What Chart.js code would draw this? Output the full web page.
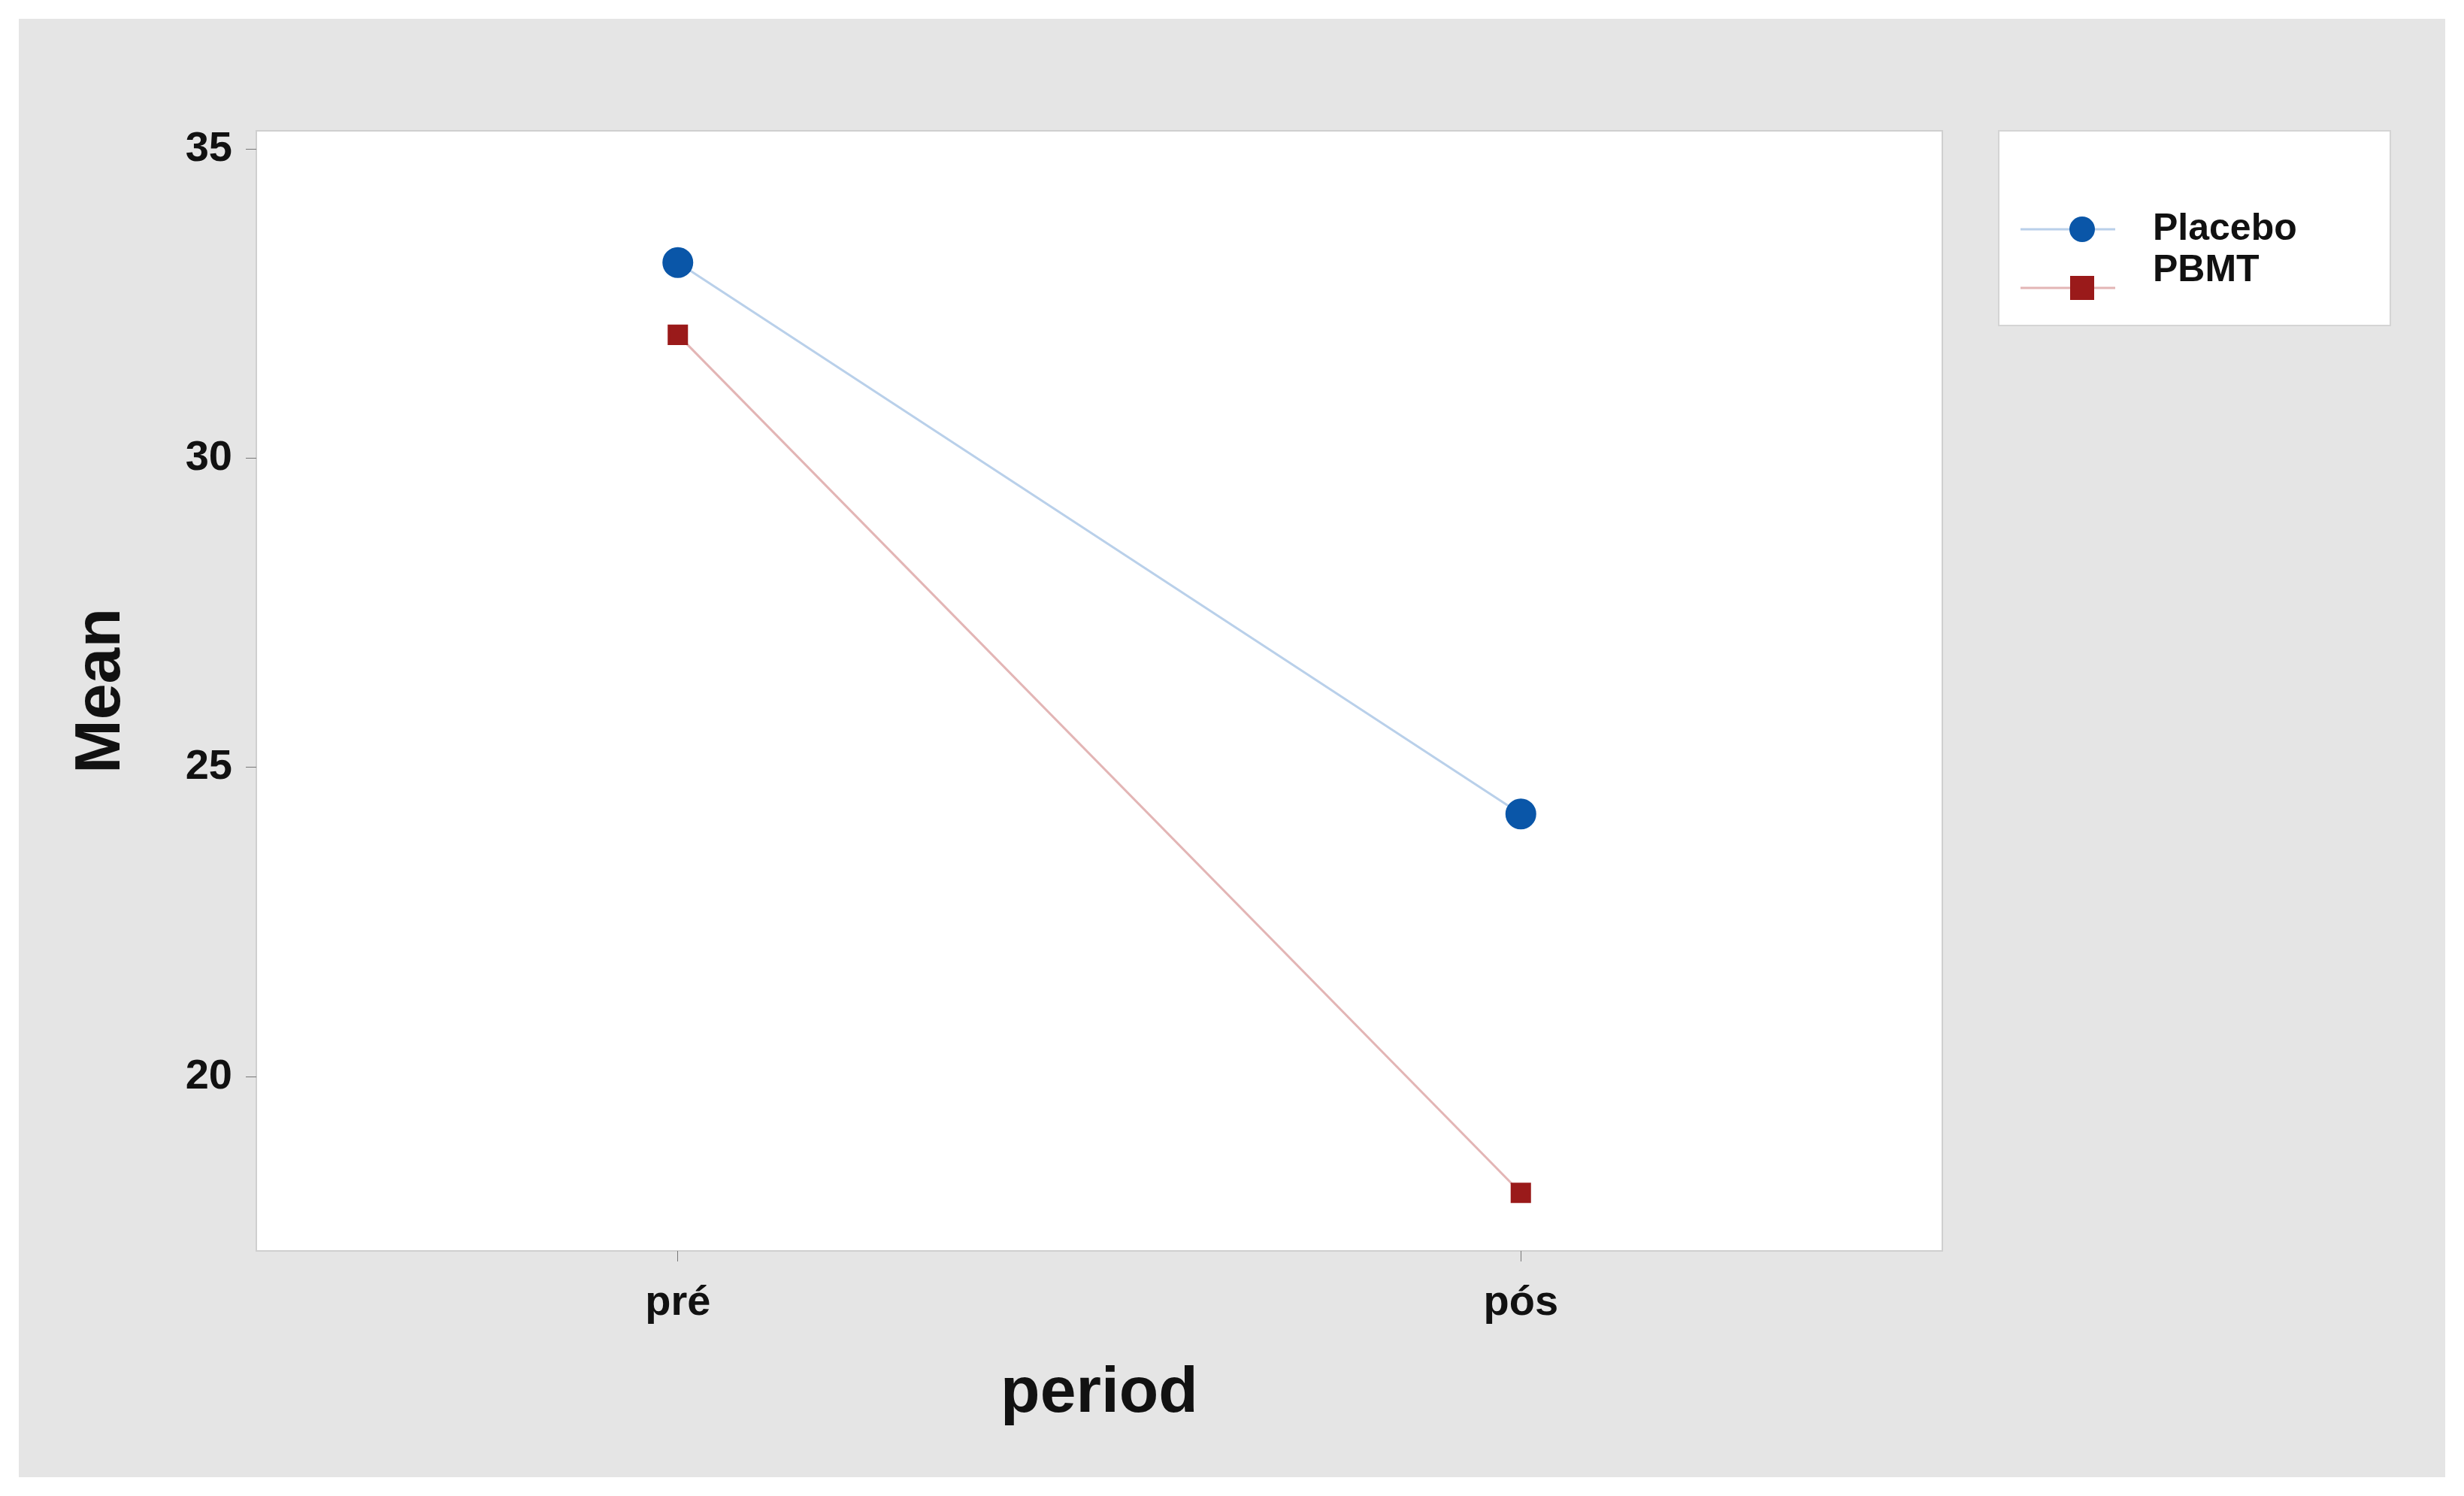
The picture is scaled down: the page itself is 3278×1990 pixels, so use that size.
<!DOCTYPE html>
<html lang="en">
<head>
<meta charset="UTF-8">
<script src="https://cdn.jsdelivr.net/npm/chart.js"></script>
<style>
  body { margin: 0; padding: 0; background: #fff; }
  #wrap { width: 3278px; height: 1990px; }
</style>
</head>
<body>
<div id="wrap"><canvas id="chart" width="3278" height="1990"></canvas></div>
<script>
// data
const periods = ['pré', 'pós'];
const placebo = [33.17, 24.25];
const pbmt = [32.0, 18.12];
const yTicks = [20, 25, 30, 35];

const FONT = '"Liberation Sans", Arial, sans-serif';

// grey panel + white plot area with thin border, and the legend box
const frame = {
  id: 'frame',
  beforeDraw(chart) {
    const c = chart.ctx, a = chart.chartArea;
    c.save();
    c.fillStyle = '#fff';
    c.fillRect(0, 0, chart.width, chart.height);
    c.fillStyle = '#e5e5e5';
    c.fillRect(25, 25, 3228, 1940);
    c.fillStyle = '#fff';
    c.fillRect(a.left, a.top, a.right - a.left, a.bottom - a.top);
    c.strokeStyle = '#cfcfcf';
    c.lineWidth = 2;
    c.strokeRect(a.left, a.top, a.right - a.left, a.bottom - a.top);
    c.restore();
  },
  afterDraw(chart) {
    const c = chart.ctx;
    c.save();
    c.fillStyle = '#fff';
    c.fillRect(2659, 174, 521, 259);
    c.strokeStyle = '#d4d4d4';
    c.lineWidth = 2;
    c.strokeRect(2659, 174, 521, 259);
    c.font = 'bold 50px ' + FONT;
    c.textBaseline = 'middle';
    const rows = [[305, 305], [383, 360]];
    chart.data.datasets.forEach((ds, i) => {
      const my = rows[i][0];
      c.strokeStyle = ds.borderColor;
      c.lineWidth = 3;
      c.beginPath(); c.moveTo(2688, my); c.lineTo(2814, my); c.stroke();
      c.fillStyle = ds.pointBackgroundColor;
      if (ds.pointStyle === 'circle') {
        c.beginPath(); c.arc(2770, my, 17, 0, Math.PI * 2); c.fill();
      } else {
        c.fillRect(2770 - 16, my - 16, 32, 32);
      }
      c.fillStyle = '#111';
      c.fillText(ds.label, 2864, rows[i][1]);
    });
    c.restore();
  }
};

new Chart(document.getElementById('chart'), {
  type: 'line',
  data: {
    datasets: [{
      label: 'Placebo',
      data: placebo.map((v, i) => ({ x: i, y: v })),
      borderColor: '#b9d0ea',
      borderWidth: 3,
      pointStyle: 'circle',
      pointRadius: 19,
      pointBackgroundColor: '#0a56a8',
      pointBorderColor: '#0a56a8'
    }, {
      label: 'PBMT',
      data: pbmt.map((v, i) => ({ x: i, y: v })),
      borderColor: '#e3b5b5',
      borderWidth: 3,
      pointStyle: 'rect',
      pointRadius: 17,
      pointBackgroundColor: '#9a1a1a',
      pointBorderColor: '#9a1a1a'
    }]
  },
  options: {
    responsive: false,
    animation: false,
    devicePixelRatio: 1,
    layout: { padding: { left: 60, right: 694, top: 174, bottom: 25 } },
    plugins: { legend: { display: false }, tooltip: { enabled: false } },
    scales: {
      x: {
        type: 'linear',
        min: -0.5, max: 1.5,
        afterBuildTicks: s => { s.ticks = periods.map((p, i) => ({ value: i })); },
        afterFit: s => { s.height = 301; },
        ticks: {
          callback: v => periods[v],
          color: '#111',
          font: { family: FONT, size: 56, weight: 'bold' },
          padding: 22
        },
        grid: { drawOnChartArea: false, tickLength: 14, color: '#777' },
        border: { display: false },
        title: {
          display: true, text: 'period', color: '#111',
          font: { family: FONT, size: 86, weight: 'bold' },
          padding: { top: 0, bottom: 59 }
        }
      },
      y: {
        min: 17.18, max: 35.3,
        afterBuildTicks: s => { s.ticks = yTicks.map(v => ({ value: v })); },
        afterFit: s => { s.width = 281; },
        ticks: {
          color: '#111',
          font: { family: FONT, size: 56, weight: 'bold' },
          padding: 18
        },
        grid: { drawOnChartArea: false, tickLength: 14, color: '#777' },
        border: { display: false },
        title: {
          display: true, text: 'Mean', color: '#111',
          font: { family: FONT, size: 86, weight: 'bold' },
          padding: { top: 24, bottom: 0 }
        }
      }
    }
  },
  plugins: [frame]
});
</script>
</body>
</html>
